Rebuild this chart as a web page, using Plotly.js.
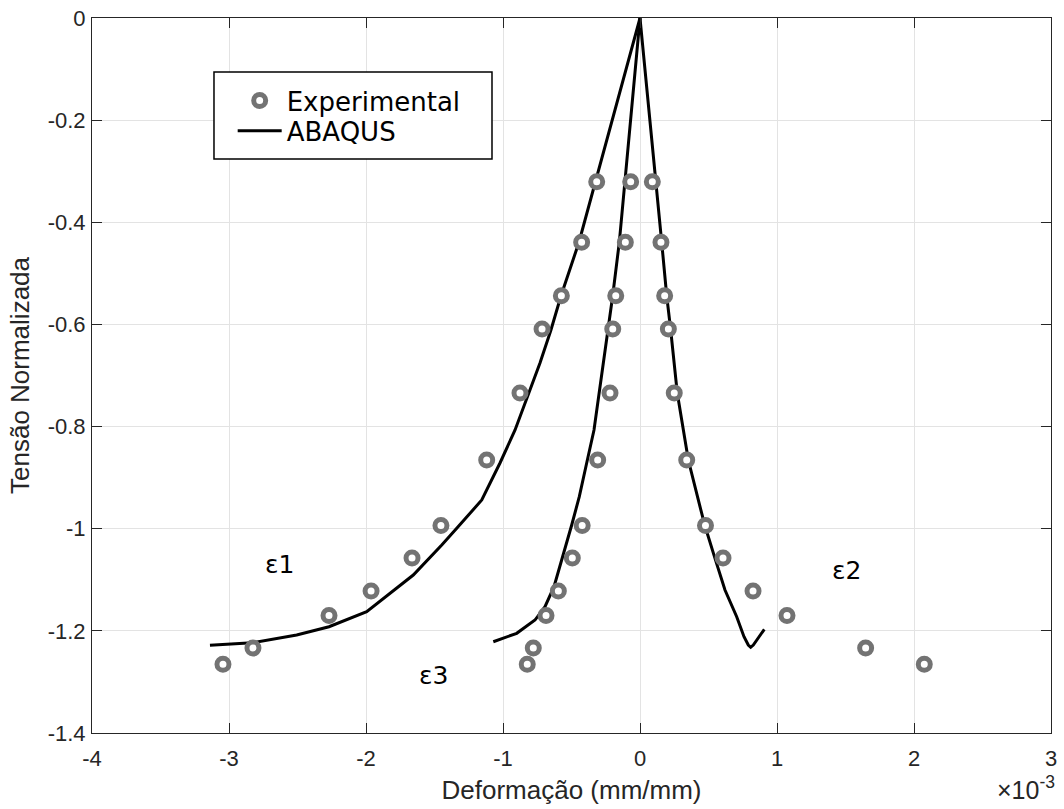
<!DOCTYPE html>
<html>
<head>
<meta charset="utf-8">
<script src="https://cdn.plot.ly/plotly-3.0.1.min.js"></script>
<style>
  html, body { margin: 0; padding: 0; background: #ffffff; }
  #chart { width: 1064px; height: 809px; }
</style>
</head>
<body>
<div id="chart"></div>
<script>
// Normalised stress levels at which the strains were measured
const stressLevels = [-0.3205, -0.4392, -0.5438, -0.6090, -0.7343, -0.8655,
                      -0.9937, -1.0574, -1.1220, -1.1700, -1.2336, -1.2655];

// Measured strains (x 10^-3 mm/mm)
const expEps1 = [-0.316, -0.426, -0.574, -0.715, -0.876, -1.119,
                 -1.453, -1.664, -1.963, -2.270, -2.825, -3.044];
const expEps2 = [0.090, 0.153, 0.180, 0.207, 0.250, 0.341,
                 0.478, 0.606, 0.825, 1.073, 1.647, 2.075];
const expEps3 = [-0.068, -0.107, -0.177, -0.199, -0.219, -0.309,
                 -0.422, -0.494, -0.596, -0.686, -0.779, -0.823];

// ABAQUS numerical curves
const abqEps1X = [0, -0.314, -0.445, -0.577, -0.650, -0.730, -0.825, -0.912, -1.022,
                  -1.155, -1.336, -1.447, -1.655, -1.995, -2.270, -2.506, -2.830, -3.139];
const abqEps1Y = [0, -0.3107, -0.4386, -0.5443, -0.6109, -0.6755, -0.7420, -0.8067, -0.8713,
                  -0.9438, -0.9986, -1.0319, -1.0907, -1.1625, -1.1919, -1.2081, -1.2232, -1.2283];

const abqEps2X = [0, 0.1146, 0.1584, 0.1949, 0.2241, 0.2723, 0.3526, 0.4380, 0.4745,
                  0.5474, 0.6204, 0.7058, 0.7591, 0.7905, 0.8080, 0.8270, 0.8635, 0.9073];
const abqEps2Y = [0, -0.3107, -0.4392, -0.5438, -0.6109, -0.7349, -0.8655, -0.9569, -0.9947,
                  -1.0580, -1.1200, -1.1723, -1.2114, -1.2277, -1.2322, -1.2277, -1.2126, -1.1970];

const abqEps3X = [0, -0.1044, -0.1511, -0.1993, -0.2372, -0.2664, -0.3044, -0.3358, -0.3891,
                  -0.4431, -0.4985, -0.5599, -0.6277, -0.6934, -0.7664, -0.9000, -1.0708];
const abqEps3Y = [0, -0.3107, -0.4392, -0.5438, -0.6168, -0.6755, -0.7415, -0.8067, -0.8713,
                  -0.9373, -0.9927, -1.0482, -1.1136, -1.1527, -1.1788, -1.2048, -1.2213];

// Axis ticks
const xTickVals = [-4, -3, -2, -1, 0, 1, 2, 3];
const xTickText = ['-4', '-3', '-2', '-1', '0', '1', '2', '3'];
const yTickVals = [0, -0.2, -0.4, -0.6, -0.8, -1, -1.2, -1.4];
const yTickText = ['0', '-0.2', '-0.4', '-0.6', '-0.8', '-1', '-1.2', '-1.4'];

// Curve labels
const curveLabels = ['\u03b51', '\u03b52', '\u03b53'];
const curveLabelX = [-2.628, 1.509, -1.507];
const curveLabelY = [-1.071, -1.082, -1.2875];

const markerGray = 'rgb(115,115,115)';
const axisGray = '#262626';
const sansArial = 'Liberation Sans, Arial, sans-serif';
const legendFont = { family: 'DejaVu Sans, sans-serif', size: 26, color: '#000000' };
const tickFont = { family: sansArial, size: 22, color: axisGray };

function lineTrace(x, y) {
  return {
    x: x, y: y, type: 'scatter', mode: 'lines', name: 'ABAQUS',
    legend: 'legend2', legendgroup: 'abaqus', showlegend: false,
    line: { color: '#000000', width: 3 }, hoverinfo: 'x+y'
  };
}
function expTrace(x, show) {
  return {
    x: x, y: stressLevels, type: 'scatter', mode: 'markers', name: 'Experimental',
    legend: 'legend', legendgroup: 'exp', showlegend: show,
    marker: { symbol: 'circle', size: 12, color: '#ffffff',
              line: { color: markerGray, width: 5 } },
    hoverinfo: 'x+y'
  };
}

const traces = [
  lineTrace(abqEps1X, abqEps1Y),
  lineTrace(abqEps2X, abqEps2Y),
  lineTrace(abqEps3X, abqEps3Y),
  expTrace(expEps1, true),
  expTrace(expEps2, false),
  expTrace(expEps3, false),
  // legend entry for the numerical curves
  { x: [null], y: [null], type: 'scatter', mode: 'lines', name: 'ABAQUS',
    legend: 'legend2', legendgroup: 'abaqus', showlegend: true,
    line: { color: '#000000', width: 3 } }
];

const annotations = curveLabels.map((t, i) => ({
  x: curveLabelX[i], y: curveLabelY[i], xref: 'x', yref: 'y', text: t,
  showarrow: false, xanchor: 'center', yanchor: 'middle',
  font: { family: 'DejaVu Sans, sans-serif', size: 25, color: '#000000' }
}));
annotations.push({
  x: 1.0065, y: -0.077, xref: 'paper', yref: 'paper',
  text: '\u00d710<sup>-3</sup>', showarrow: false, xanchor: 'right', yanchor: 'middle',
  font: { family: sansArial, size: 25, color: axisGray }
});

function legendBox(yCentre) {
  return {
    x: 0.1467, y: yCentre, xanchor: 'left', yanchor: 'middle',
    bgcolor: 'rgba(0,0,0,0)', borderwidth: 0, itemwidth: 44,
    font: legendFont, traceorder: 'normal'
  };
}

const layout = {
  width: 1064, height: 809,
  margin: { l: 92, r: 13, t: 18, b: 76 },
  paper_bgcolor: '#ffffff', plot_bgcolor: '#ffffff',
  showlegend: true,
  legend: legendBox(0.8845),
  legend2: legendBox(0.8420),
  // frame behind the two legend entries
  shapes: [{
    type: 'rect', xref: 'paper', yref: 'paper',
    x0: 0.1272, x1: 0.4171, y0: 0.8028, y1: 0.9245,
    fillcolor: '#ffffff', line: { color: '#000000', width: 1.5 }, layer: 'above'
  }],
  xaxis: {
    range: [-4, 3], tickvals: xTickVals, ticktext: xTickText,
    showgrid: true, gridcolor: '#e3e3e3', gridwidth: 1, zeroline: false,
    showline: true, linecolor: axisGray, linewidth: 1, mirror: 'ticks',
    ticks: 'inside', ticklen: 10, tickcolor: axisGray, tickwidth: 1,
    tickfont: tickFont, ticklabelstandoff: 6,
    title: { text: 'Deformação (mm/mm)', standoff: 10,
             font: { family: sansArial, size: 26, color: axisGray } }
  },
  yaxis: {
    range: [-1.4, 0], tickvals: yTickVals, ticktext: yTickText,
    showgrid: true, gridcolor: '#e3e3e3', gridwidth: 1, zeroline: false,
    showline: true, linecolor: axisGray, linewidth: 1, mirror: 'ticks',
    ticks: 'inside', ticklen: 10, tickcolor: axisGray, tickwidth: 1,
    tickfont: tickFont, ticklabelstandoff: 1,
    title: { text: 'Tensão Normalizada', standoff: 10,
             font: { family: sansArial, size: 26, color: axisGray } }
  },
  annotations: annotations
};

Plotly.newPlot('chart', traces, layout, { displayModeBar: false, staticPlot: true });
</script>
</body>
</html>
